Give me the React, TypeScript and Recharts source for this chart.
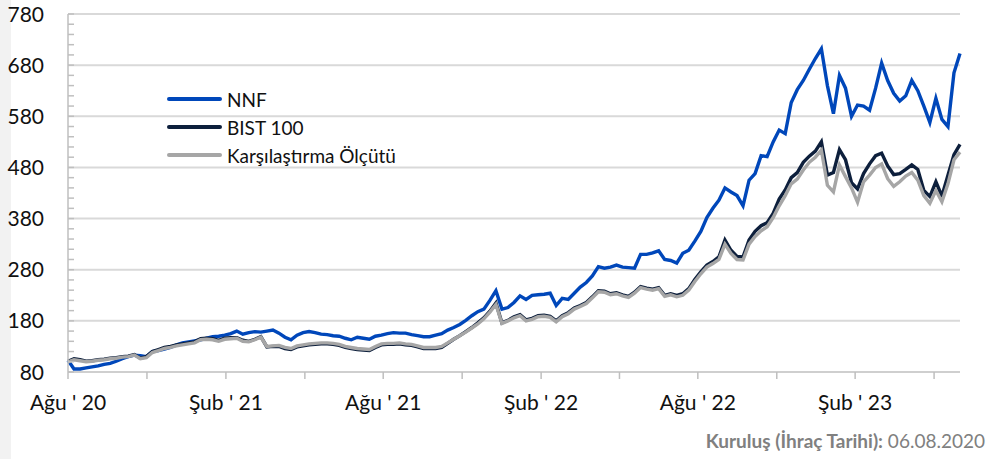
import React from "react";
import { LineChart, Line, XAxis, YAxis, CartesianGrid } from "recharts";

// weekly closes, indexed from the launch date (06.08.2020)
const nnf = [
  103, 86, 86, 88, 90, 92, 95, 97, 101, 106, 110, 113, 112, 110, 120, 122, 125, 128, 133, 137,
  139, 141, 143, 146, 149, 150, 152, 155, 160, 154, 157, 159, 158, 160, 162, 156, 148, 143, 152, 157,
  159, 157, 154, 153, 151, 150, 146, 143, 148, 146, 144, 150, 152, 155, 157, 156, 156, 153, 151, 149,
  149, 152, 155, 162, 167, 173, 181, 190, 198, 203, 220, 239, 203, 206, 216, 229, 222, 230, 231, 232,
  234, 210, 224, 222, 234, 246, 255, 268, 286, 283, 285, 289, 285, 284, 283, 310, 310, 313, 317, 300,
  298, 293, 312, 318, 336, 355, 382, 400, 416, 440, 432, 425, 405, 455, 468, 503, 501, 530, 553, 546,
  607, 632, 650, 672, 693, 712, 640, 585, 660, 635, 580, 602, 600, 592, 635, 684, 650, 625, 610, 620,
  650, 630, 600, 568, 615, 574, 560, 665, 703,
];

const bist100 = [
  101, 106, 104, 101, 102, 104, 105, 107, 108, 110, 111, 114, 107, 110, 120, 124, 128, 130, 133, 135,
  137, 139, 145, 146, 145, 142, 146, 147, 147, 142, 140, 144, 149, 129, 130, 130, 126, 124, 129, 131,
  133, 134, 135, 135, 134, 132, 128, 126, 124, 123, 122, 128, 133, 134, 134, 135, 133, 132, 129, 126,
  126, 126, 128, 136, 144, 151, 159, 167, 176, 186, 199, 215, 176, 181, 188, 192, 182, 185, 190, 191,
  189, 180, 190, 196, 205, 210, 216, 227, 239, 238, 233, 235, 231, 228, 236, 247, 244, 242, 245, 230,
  233, 230, 233, 243, 261, 276, 289, 296, 305, 338, 318, 306, 305, 338, 355, 366, 372, 390, 418, 436,
  460, 470, 490, 502, 512, 530, 465, 470, 515, 495, 450, 438, 468, 487, 503, 508, 483, 466, 468, 476,
  485, 476, 435, 423, 452, 424, 465, 505, 525,
];

const benchmark = [
  100, 104, 102, 100, 101, 103, 104, 106, 107, 109, 110, 113, 106, 108, 118, 122, 126, 128, 131, 133,
  135, 137, 143, 144, 143, 140, 144, 145, 146, 140, 139, 143, 148, 130, 131, 132, 128, 126, 131, 133,
  135, 136, 137, 137, 136, 134, 130, 128, 126, 125, 124, 130, 135, 136, 136, 137, 135, 134, 131, 128,
  128, 128, 130, 137, 144, 151, 158, 166, 174, 184, 197, 212, 175, 180, 186, 190, 180, 183, 188, 189,
  187, 178, 188, 194, 203, 208, 214, 225, 237, 236, 231, 233, 229, 226, 234, 245, 242, 240, 243, 228,
  231, 227, 230, 240, 257, 272, 285, 292, 300, 330, 312, 300, 299, 330, 345, 356, 364, 382, 405, 425,
  448, 457, 475, 490, 500, 514, 445, 432, 485, 462, 440, 412, 452, 465, 480, 487, 458, 443, 452, 463,
  470, 455, 425, 410, 435, 413, 448, 495, 510,
];

// quarter ticks (in weeks from launch); labels only on half years
const xTicks = [0, 13.1, 26.2, 39.3, 52.3, 65.4, 78.5, 91.5, 104.5, 117.6, 130.6, 143.7];
const xTickLabels = ["Ağu ' 20", "", "Şub ' 21", "", "Ağu ' 21", "", "Şub ' 22", "", "Ağu ' 22", "", "Şub ' 23", ""];

const yTicks = [
  80, 100, 120, 140, 160, 180, 200, 220, 240, 260, 280, 300, 320, 340, 360, 380, 400, 420,
  440, 460, 480, 500, 520, 540, 560, 580, 600, 620, 640, 660, 680, 700, 720, 740, 760, 780,
];
const yLabels = [80, 180, 280, 380, 480, 580, 680, 780];
const gridValues = [180, 280, 380, 480, 580, 680, 780];

const series = [
  { key: "nnf", name: "NNF", color: "#0047ba" },
  { key: "bist", name: "BIST 100", color: "#0d1f3c" },
  { key: "bench", name: "Karşılaştırma Ölçütü", color: "#a6a6a6" },
];

const data = nnf.map((v, i) => ({ w: i, nnf: v, bist: bist100[i], bench: benchmark[i] }));

const FONT = "Lato, 'Open Sans', sans-serif";
const AXIS = "#bfbfbf";

function XTick(props: any) {
  const { x, y, index } = props;
  const label = xTickLabels[index] || "";
  return (
    <g>
      <line x1={x} x2={x} y1={y} y2={y + 7} stroke={AXIS} strokeWidth={1.5} />
      {label && (
        <text x={x} y={y + 38} textAnchor="middle" fontFamily={FONT} fontSize={21} fill="#111">
          {label}
        </text>
      )}
    </g>
  );
}

function YTick(props: any) {
  const { x, y, payload } = props;
  const show = yLabels.includes(payload.value);
  return (
    <g>
      <line x1={x} x2={x + 6} y1={y} y2={y} stroke={AXIS} strokeWidth={1.5} />
      {show && (
        <text x={x - 24} y={y} dy="0.36em" textAnchor="end" fontFamily={FONT} fontSize={21} fill="#111">
          {payload.value}
        </text>
      )}
    </g>
  );
}

export default function App() {
  return (
    <div
      style={{
        position: "absolute",
        left: 0,
        top: 0,
        width: 1005,
        height: 459,
        background: "#fff",
        fontFamily: FONT,
      }}
    >
      <div style={{ position: "absolute", left: 0, top: 0, width: 11, height: 459, background: "#f2f2f2" }} />
      <LineChart width={1005} height={459} data={data} margin={{ top: 14, right: 45, bottom: 47, left: 0 }}>
        <CartesianGrid horizontal vertical={false} horizontalValues={gridValues} stroke="#d9d9d9" strokeWidth={2} />
        <XAxis
          dataKey="w"
          type="number"
          domain={[0, 148]}
          ticks={xTicks}
          interval={0}
          height={40}
          tickSize={0}
          tickMargin={0}
          axisLine={{ stroke: AXIS, strokeWidth: 1.5 }}
          tickLine={false}
          tick={<XTick />}
        />
        <YAxis
          type="number"
          domain={[80, 780]}
          ticks={yTicks}
          interval={0}
          width={68}
          tickSize={0}
          tickMargin={0}
          axisLine={{ stroke: AXIS, strokeWidth: 1.5 }}
          tickLine={false}
          tick={<YTick />}
        />
        {series.map((s) => (
          <Line
            key={s.key}
            dataKey={s.key}
            name={s.name}
            stroke={s.color}
            strokeWidth={3.4}
            dot={false}
            type="linear"
            isAnimationActive={false}
          />
        ))}
      </LineChart>

      <div style={{ position: "absolute", left: 167, top: 85 }}>
        {series.map((s) => (
          <div key={s.key} style={{ display: "flex", alignItems: "center", height: 28 }}>
            <div style={{ width: 55, height: 4, background: s.color, borderRadius: 2 }} />
            <span style={{ marginLeft: 5, fontSize: 19, color: "#111", whiteSpace: "nowrap" }}>{s.name}</span>
          </div>
        ))}
      </div>

      <div
        style={{
          position: "absolute",
          right: 20,
          top: 429,
          fontSize: 19,
          color: "#808080",
          whiteSpace: "nowrap",
        }}
      >
        <b>Kuruluş (İhraç Tarihi):</b> 06.08.2020
      </div>
    </div>
  );
}
